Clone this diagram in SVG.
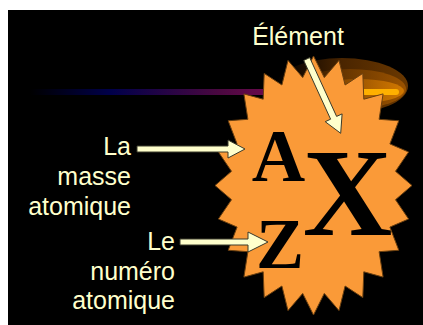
<svg xmlns="http://www.w3.org/2000/svg" width="423" height="325" viewBox="0 0 423 325">
  <style>
    .lbl { font-family: "Liberation Sans", Arial, sans-serif; font-size: 25px; fill: #FFFFCC; }
    .sym { font-family: "Liberation Serif", "Times New Roman", serif; font-weight: bold; fill: #000000; text-anchor: middle; }
    .arrow { fill: #FFFFCC; stroke: #3a3a2a; stroke-width: 1; stroke-linejoin: miter; }
  </style>
  <defs>
    <linearGradient id="trail" x1="30" y1="0" x2="300" y2="0" gradientUnits="userSpaceOnUse">
      <stop offset="0" stop-color="#000000"/>
      <stop offset="0.3" stop-color="#00004a"/>
      <stop offset="0.7" stop-color="#4a0840"/>
      <stop offset="1" stop-color="#800a55"/>
    </linearGradient>
    <linearGradient id="glowOuter" x1="0" y1="0" x2="1" y2="0">
      <stop offset="0" stop-color="#3a1c00" stop-opacity="0"/>
      <stop offset="0.5" stop-color="#4a2500"/>
      <stop offset="1" stop-color="#6a3800"/>
    </linearGradient>
    <linearGradient id="glowMid" x1="0" y1="0" x2="1" y2="0">
      <stop offset="0" stop-color="#7a4000" stop-opacity="0"/>
      <stop offset="1" stop-color="#9a5200"/>
    </linearGradient>
    <linearGradient id="glowIn" x1="0" y1="0" x2="1" y2="0">
      <stop offset="0" stop-color="#b86400" stop-opacity="0"/>
      <stop offset="1" stop-color="#d07800"/>
    </linearGradient>
  </defs>

  <rect x="8" y="10" width="415" height="315" fill="#000000"/>

  <g id="trail-line">
    <rect x="30" y="89" width="280" height="6" fill="url(#trail)"/>
  </g>

  <g id="glow">
    <ellipse cx="342" cy="86" rx="66" ry="28" fill="url(#glowOuter)"/>
    <ellipse cx="350" cy="89" rx="56" ry="20" fill="url(#glowMid)"/>
    <ellipse cx="358" cy="91" rx="46" ry="12" fill="url(#glowIn)"/>
    <line x1="320" y1="92" x2="396" y2="92" stroke="#FFB000" stroke-width="6" stroke-linecap="round"/>
  </g>

  <g id="star">
    <polygon fill="#FA9A38" stroke="#6b4010" stroke-width="1" points="313.5,56 324.3,77.6 339,60.4 345.1,85 362.8,73.4 363.8,99.2 383.1,93.9 379.1,119.3 398.8,120.75 389.9,143.9 408.6,152 395.5,171.3 412,185.5 395.5,199.7 408.6,219 389.9,227.1 398.8,250.25 379.1,251.7 383.1,277.1 363.8,271.8 362.8,297.6 345.1,286 339,310.6 324.3,293.4 313.5,315 302.7,293.4 288,310.6 281.9,286 264.2,297.6 263.2,271.8 243.9,277.1 247.9,251.7 228.2,250.25 237.1,227.1 218.4,219 231.5,199.7 215,185.5 231.5,171.3 218.4,152 237.1,143.9 228.2,120.75 247.9,119.3 243.9,93.9 263.2,99.2 264.2,73.4 281.9,85 288,60.4 302.7,77.6"/>
    <text class="sym" x="278.5" y="181" font-size="74">A</text>
    <text class="sym" x="347.5" y="235" font-size="124">X</text>
    <text class="sym" x="280" y="268" font-size="72">Z</text>
  </g>

  <g id="connectors">
    <polygon class="arrow" points="303.7,60.4 309.7,57.6 336.6,116.4 342.1,113.9 340.7,133.3 325.2,121.7 330.6,119.2"/>
    <polygon class="arrow" points="137,146 228,146 228,140 245,149 228,158 228,152 137,152"/>
    <polygon class="arrow" points="180,239 248,239 248,232 268,242 248,252 248,245 180,245"/>
  </g>

  <g id="label-element">
    <text class="lbl" x="298" y="45" text-anchor="middle">Élément</text>
  </g>
  <g id="label-masse">
    <text class="lbl" text-anchor="end"><tspan x="131" y="155">La</tspan><tspan x="131" y="185">masse</tspan><tspan x="131" y="215">atomique</tspan></text>
  </g>
  <g id="label-numero">
    <text class="lbl" text-anchor="end"><tspan x="175" y="250">Le</tspan><tspan x="175" y="280">numéro</tspan><tspan x="175" y="309">atomique</tspan></text>
  </g>
</svg>
